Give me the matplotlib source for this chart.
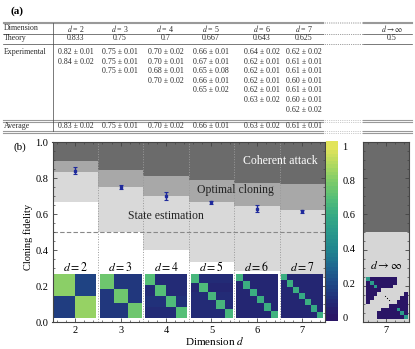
import numpy as np
import matplotlib
matplotlib.use("Agg")
import matplotlib.pyplot as plt
from matplotlib.colors import LinearSegmentedColormap
from matplotlib.ticker import MultipleLocator

plt.rcParams["font.family"] = ["Liberation Serif", "DejaVu Serif"]
plt.rcParams["mathtext.fontset"] = "stix"

# ---- data ----
dims = [2, 3, 4, 5, 6, 7]
theory = [0.833, 0.75, 0.7, 0.667, 0.643, 0.625]
theory_txt = ["0.833", "0.75", "0.7", "0.667", "0.643", "0.625"]
state_est = [0.667, 0.5, 0.4, 0.333, 0.286, 0.25]
coherent = [0.895, 0.845, 0.812, 0.79, 0.773, 0.765]

exp_fid = [[0.82, 0.84],
           [0.75, 0.75, 0.75],
           [0.70, 0.70, 0.68, 0.70],
           [0.66, 0.67, 0.65, 0.66, 0.65],
           [0.64, 0.62, 0.62, 0.62, 0.62, 0.63],
           [0.62, 0.61, 0.61, 0.60, 0.61, 0.60, 0.62]]
exp_err = [[0.01, 0.02],
           [0.01, 0.01, 0.01],
           [0.02, 0.01, 0.01, 0.02],
           [0.01, 0.01, 0.08, 0.01, 0.02],
           [0.02, 0.01, 0.01, 0.01, 0.01, 0.02],
           [0.02, 0.01, 0.01, 0.01, 0.01, 0.01, 0.02]]
avg_fid = [0.83, 0.75, 0.70, 0.66, 0.63, 0.61]
avg_err = [0.02, 0.01, 0.02, 0.01, 0.02, 0.01]
point_fid = [0.84, 0.75, 0.70, 0.665, 0.63, 0.615]

inf_theory = 0.5
inf_diag = 0.5
# d -> infinity sketch: T = diagonal, I = zero entry, . = blank
inf_pattern = ["TIIIIIII...",
               "ITIIIIII...",
               "IITIIII....",
               "IIII.......",
               "III.......I",
               "II.......II",
               "I.......III",
               "......IIIII",
               "....IIIITII",
               "...IIIIIITI",
               "...IIIIIIIT"]

cmap = LinearSegmentedColormap.from_list(
    "bgy", [(0.0, "#2a1565"), (0.1, "#22307a"), (0.2, "#1f4c88"), (0.3, "#1f6a90"),
            (0.4, "#21878f"), (0.5, "#2a9a8c"), (0.6, "#36ab84"), (0.7, "#55bf78"),
            (0.8, "#7ccb6a"), (0.9, "#b0d960"), (1.0, "#e2e45a")], N=48)

fig = plt.figure(figsize=(4.15, 3.49), dpi=100)

# ---- (a) table, drawn in pixel coordinates ----
tab = fig.add_axes([0, 0, 1, 1])
tab.set_xlim(0, 415)
tab.set_ylim(349, 0)
tab.axis("off")

col_x = [75.5, 120, 165.5, 211, 262, 304]
inf_x = 392
fs = 5.7
tc = "#2a2a2a"

tab.text(10, 11, "(a)", fontsize=8, fontweight="bold", ha="left", va="center")


def hline(y, lw, color):
    tab.plot([3, 323], [y, y], color=color, lw=lw)
    tab.plot([323, 363], [y, y], color=color, lw=0.5, ls=":")
    tab.plot([363, 412], [y, y], color=color, lw=lw)


hline(21.5, 0.8, "#999999")
hline(23.0, 0.8, "#999999")
hline(33.5, 0.5, "#444444")
hline(43.5, 0.5, "#444444")
hline(120.0, 0.8, "#999999")
hline(121.5, 0.8, "#999999")
hline(131.0, 0.8, "#999999")
hline(132.5, 0.8, "#999999")
tab.plot([53, 53], [23, 131], color="#444444", lw=0.5)

tab.text(4, 28.5, "Dimension", fontsize=fs, color=tc, va="center")
tab.text(4, 38.5, "Theory", fontsize=fs, color=tc, va="center")
tab.text(4, 52, "Experimental", fontsize=fs, color=tc, va="center")
tab.text(4, 126.5, "Average", fontsize=fs, color=tc, va="center")
for i, d in enumerate(dims):
    x = col_x[i]
    tab.text(x, 28.5, rf"$d$ = {d}", fontsize=fs, color=tc, ha="center", va="center")
    tab.text(x, 38.5, theory_txt[i], fontsize=fs, color=tc, ha="center", va="center")
    for j, (v, e) in enumerate(zip(exp_fid[i], exp_err[i])):
        tab.text(x, 52 + 9.6 * j, f"{v:.2f} ± {e:.2f}", fontsize=fs, color=tc,
                 ha="center", va="center")
    tab.text(x, 126.5, f"{avg_fid[i]:.2f} ± {avg_err[i]:.2f}", fontsize=fs, color=tc,
             ha="center", va="center")
tab.text(inf_x, 28.5, r"$d \rightarrow \infty$", fontsize=fs, color=tc, ha="center", va="center")
tab.text(inf_x, 38.5, f"{inf_theory}", fontsize=fs, color=tc, ha="center", va="center")

# ---- (b) main plot ----
fig.text(13 / 415, 1 - 147 / 349, "(b)", fontsize=8, ha="left", va="center")
ax = fig.add_axes([52.5 / 415, 27 / 349, 272.5 / 415, 180 / 349])
se = np.array(state_est)
oc = np.array(theory)
ca = np.array(coherent)
ax.bar(dims, se, width=1, color="white", zorder=0)
ax.bar(dims, oc - se, bottom=se, width=1, color="#d9d9d9", zorder=0)
ax.bar(dims, ca - oc, bottom=oc, width=1, color="#a8a8a8", zorder=0)
ax.bar(dims, 1 - ca, bottom=ca, width=1, color="#6b6b6b", zorder=0)
ax.vlines(np.array(dims[:-1]) + 0.5, 0, 1, colors="#9a9a9a", lw=0.7, ls=":", zorder=1)
ax.axhline(0.5, color="#888888", lw=0.8, ls=(0, (4, 2)), zorder=1)
ax.errorbar(dims, point_fid, yerr=avg_err, fmt="s", ms=1.8, color="#1f2a9c",
            ecolor="#1f2a9c", elinewidth=1.0, capsize=1.5, capthick=0.8, zorder=3)

for i, d in enumerate(dims):
    diag = np.array(exp_fid[i])
    off = (1 - diag) / (d - 1)
    m = np.tile(off[:, None], (1, d))
    m[np.arange(d), np.arange(d)] = diag
    ax.imshow(m, cmap=cmap, vmin=0, vmax=1, extent=(d - 0.46, d + 0.46, 0.02, 0.26),
              aspect="auto", interpolation="nearest", zorder=2)
    ax.text(d, 0.305, rf"$d = {d}$", fontsize=8.5, ha="center", va="center", zorder=3)

ax.text(6.51, 0.894, "Coherent attack", fontsize=8.5, color="white", ha="center", va="center")
ax.text(5.52, 0.733, "Optimal cloning", fontsize=8.5, color="#222222", ha="center", va="center")
ax.text(4.0, 0.589, "State estimation", fontsize=8.5, color="#222222", ha="center", va="center")

ax.set_xlim(1.5, 7.5)
ax.set_ylim(0, 1)
ax.set_xticks(dims)
ax.set_yticks([0, 0.2, 0.4, 0.6, 0.8, 1.0])
ax.set_yticklabels(["0.0", "0.2", "0.4", "0.6", "0.8", "1.0"])
ax.xaxis.set_minor_locator(MultipleLocator(0.2))
ax.yaxis.set_minor_locator(MultipleLocator(0.05))
ax.tick_params(which="both", direction="in", top=True, right=True, labelsize=7.5,
               color="#444444", pad=3)
ax.tick_params(which="major", length=3, width=0.6)
ax.tick_params(which="minor", length=1.5, width=0.5)
for s in ax.spines.values():
    s.set_color("#444444")
    s.set_linewidth(0.8)

fig.text(28 / 415, 1 - 237 / 349, "Cloning fidelity", fontsize=7.5, rotation=90,
         ha="center", va="center")
fig.text(215 / 415, 1 - 341 / 349, r"Dimension $d$", fontsize=8, ha="center", va="center")

# ---- colour bar ----
cax = fig.add_axes([326 / 415, 28 / 349, 12 / 415, 180 / 349])
grad = np.linspace(1.03, -0.02, 200)[:, None]
cax.imshow(np.clip(grad, 0, 1), cmap=cmap, vmin=0, vmax=1, aspect="auto",
           extent=(0, 1, -0.02, 1.03), interpolation="nearest")
cax.set_xlim(0, 1)
cax.set_ylim(-0.02, 1.03)
cax.set_xticks([])
cax.yaxis.tick_right()
cax.set_yticks([0, 0.2, 0.4, 0.6, 0.8, 1])
cax.set_yticklabels(["0", "0.2", "0.4", "0.6", "0.8", "1"])
cax.tick_params(axis="y", length=0, labelsize=7.5, pad=3)
for s in cax.spines.values():
    s.set_visible(False)

# ---- d -> infinity panel ----
rax = fig.add_axes([363 / 415, 27 / 349, 46 / 415, 180 / 349])
rax.bar([7], [inf_theory], width=1, color="#d6d6d6", zorder=0)
rax.bar([7], [1 - inf_theory], bottom=inf_theory, width=1, color="#6b6b6b", zorder=0)
n = len(inf_pattern)
im = np.full((n, n), np.nan)
for r, row in enumerate(inf_pattern):
    for c, ch in enumerate(row):
        if ch == "T":
            im[r, c] = inf_diag
        elif ch == "I":
            im[r, c] = 0.0
rax.imshow(im, cmap=cmap, vmin=0, vmax=1, extent=(6.57, 7.48, 0.015, 0.245),
           aspect="auto", interpolation="nearest", zorder=2)
rax.text(7.02, 0.13, r"$\ddots$", fontsize=7, ha="center", va="center", zorder=3)
rax.text(7.0, 0.31, r"$d \rightarrow \infty$", fontsize=8.5, ha="center", va="center", zorder=3)
rax.set_xlim(6.5, 7.5)
rax.set_ylim(0, 1)
rax.set_xticks([7])
rax.set_yticks([0, 0.2, 0.4, 0.6, 0.8, 1.0])
rax.set_yticklabels([])
rax.xaxis.set_minor_locator(MultipleLocator(0.2))
rax.yaxis.set_minor_locator(MultipleLocator(0.05))
rax.tick_params(which="both", direction="in", top=True, right=True, labelsize=7.5,
                color="#444444", pad=3)
rax.tick_params(which="major", length=3, width=0.6)
rax.tick_params(which="minor", length=1.5, width=0.5)
for s in rax.spines.values():
    s.set_color("#444444")
    s.set_linewidth(0.8)

fig.savefig("out.png", dpi=100)
